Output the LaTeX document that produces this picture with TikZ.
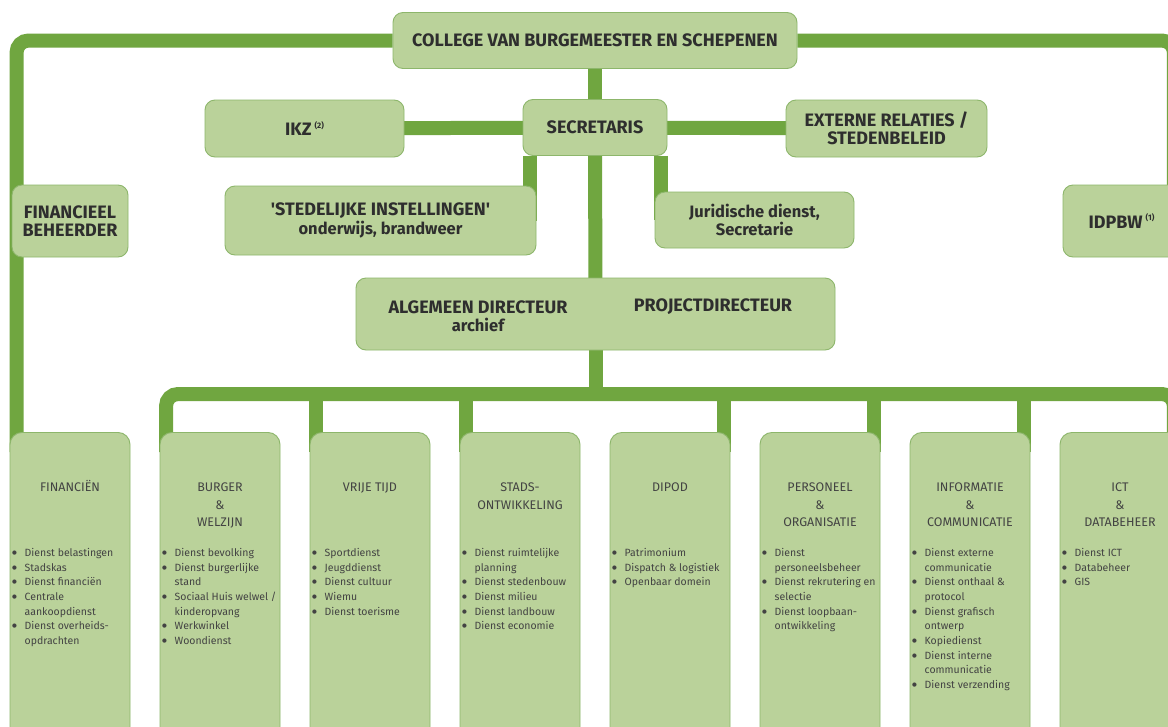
\documentclass[tikz,border=0pt]{standalone}
\usepackage{fontspec}
\setmainfont{Fira Sans}
\newfontfamily\dejavu{DejaVu Sans}
\pgfdeclarelayer{bg}
\pgfsetlayers{bg,main}
\definecolor{boxfill}{HTML}{BAD29A}
\definecolor{boxline}{HTML}{8DB66B}
\definecolor{conncol}{HTML}{70A640}
\definecolor{headtxt}{HTML}{2E2E2E}
\definecolor{lighttxt}{HTML}{434343}
\newcommand{\itm}[1]{\makebox[13.5pt][l]{\hspace{1pt}\raisebox{1.9pt}{\dejavu\fontsize{5.5}{5.5}\selectfont ●}}#1}
\newcommand{\cnt}[1]{\hspace*{13.5pt}#1}
\newcommand{\supnote}[1]{\,\raisebox{0.75ex}{\fontsize{8}{9}\selectfont(#1)}}
\newcommand{\mixed}{\fontsize{16.5}{18.5}\selectfont}
\begin{document}
\begin{tikzpicture}[x=1pt,y=-1pt,
  box/.style={draw=boxline, fill=boxfill, line width=0.9pt, rounded corners=10pt, inner sep=0pt, align=center, text=headtxt, font=\bfseries\fontsize{18}{18.5}\selectfont},
  txt/.style={inner sep=0pt, align=center, text=headtxt, font=\bfseries\fontsize{18}{18}\selectfont},
  dept/.style={draw=boxline, fill=boxfill, line width=0.9pt, rounded corners=12pt, inner sep=0pt, minimum width=120pt, minimum height=330pt, anchor=north},
  depthead/.style={anchor=north, inner sep=0pt, align=center, text=lighttxt, font=\fontsize{12.5}{17.5}\selectfont},
  deplist/.style={anchor=north west, inner sep=0pt, align=left, text=lighttxt, font=\fontsize{10.5}{14.7}\selectfont},
  conn/.style={draw=conncol, line width=14pt, rounded corners=12pt},
]
\useasboundingbox (0,0) rectangle (1168,726);

% top boxes
\node[box, minimum width=404pt, minimum height=56pt] (college) at (595,40.5) {COLLEGE VAN BURGEMEESTER EN SCHEPENEN};
\node[box, minimum width=144pt, minimum height=56pt] (secr) at (595,127.5) {SECRETARIS};
\node[box, minimum width=199pt, minimum height=57pt] (ikz) at (304.5,128.5) {IKZ\supnote{2}};
\node[box, minimum width=201pt, minimum height=57pt] (ext) at (886.5,128.5) {EXTERNE RELATIES /\\STEDENBELEID};
\node[box, minimum width=311pt, minimum height=69pt] (sted) at (380.5,220.5) {\textquotesingle STEDELIJKE INSTELLINGEN\textquotesingle\\{\mixed onderwijs, brandweer}};
\node[box, minimum width=199pt, minimum height=56pt, font=\bfseries\mixed] (jur) at (754.5,220) {Juridische dienst,\\Secretarie};
\node[box, minimum width=116pt, minimum height=72pt] (finb) at (70,221) {FINANCIEEL\\BEHEERDER};
\node[box, minimum width=117pt, minimum height=72pt] (idpbw) at (1121.5,221) {\raisebox{-5pt}{IDPBW\supnote{1}}};
\node[box, minimum width=479pt, minimum height=72pt] (alg) at (595.5,314) {};
\node[txt] (algtxt) at (478,316) {ALGEMEEN DIRECTEUR\\{\mixed archief}};
\node[txt] (projtxt) at (713,307) {PROJECTDIRECTEUR};

% department boxes
\node[dept] (dfin) at (70,432) {};
\node[dept] (dbur) at (220,432) {};
\node[dept] (dvrij) at (370,432) {};
\node[dept] (dstad) at (520,432) {};
\node[dept] (ddip) at (670,432) {};
\node[dept] (dpers) at (820,432) {};
\node[dept] (dinfo) at (970,432) {};
\node[dept] (dict) at (1120,432) {};

\node[depthead] (hfin) at (70,480) {\rule{0pt}{11.5pt}FINANCIËN};
\node[depthead] (hbur) at (220,480) {\rule{0pt}{11.5pt}BURGER\\\&\\WELZIJN};
\node[depthead] (hvrij) at (370,480) {\rule{0pt}{11.5pt}VRIJE TIJD};
\node[depthead] (hstad) at (520,480) {\rule{0pt}{11.5pt}STADS-\\ONTWIKKELING};
\node[depthead] (hdip) at (670,480) {\rule{0pt}{11.5pt}DIPOD};
\node[depthead] (hpers) at (820,480) {\rule{0pt}{11.5pt}PERSONEEL\\\&\\ORGANISATIE};
\node[depthead] (hinfo) at (970,480) {\rule{0pt}{11.5pt}INFORMATIE\\\&\\COMMUNICATIE};
\node[depthead] (hict) at (1120,480) {\rule{0pt}{11.5pt}ICT\\\&\\DATABEHEER};

\node[deplist] (lfin) at (11,548) {\rule{0pt}{8pt}\itm{Dienst belastingen}\\\itm{Stadskas}\\\itm{Dienst financiën}\\\itm{Centrale}\\\cnt{aankoopdienst}\\\itm{Dienst overheids-}\\\cnt{opdrachten}};
\node[deplist] (lbur) at (161,548) {\rule{0pt}{8pt}\itm{Dienst bevolking}\\\itm{Dienst burgerlijke}\\\cnt{stand}\\\itm{Sociaal Huis welwel /}\\\cnt{kinderopvang}\\\itm{Werkwinkel}\\\itm{Woondienst}};
\node[deplist] (lvrij) at (311,548) {\rule{0pt}{8pt}\itm{Sportdienst}\\\itm{Jeugddienst}\\\itm{Dienst cultuur}\\\itm{Wiemu}\\\itm{Dienst toerisme}};
\node[deplist] (lstad) at (461,548) {\rule{0pt}{8pt}\itm{Dienst ruimtelijke}\\\cnt{planning}\\\itm{Dienst stedenbouw}\\\itm{Dienst milieu}\\\itm{Dienst landbouw}\\\itm{Dienst economie}};
\node[deplist] (ldip) at (611,548) {\rule{0pt}{8pt}\itm{Patrimonium}\\\itm{Dispatch \& logistiek}\\\itm{Openbaar domein}};
\node[deplist] (lpers) at (761,548) {\rule{0pt}{8pt}\itm{Dienst}\\\cnt{personeelsbeheer}\\\itm{Dienst rekrutering en}\\\cnt{selectie}\\\itm{Dienst loopbaan-}\\\cnt{ontwikkeling}};
\node[deplist] (linfo) at (911,548) {\rule{0pt}{8pt}\itm{Dienst externe}\\\cnt{communicatie}\\\itm{Dienst onthaal \&}\\\cnt{protocol}\\\itm{Dienst grafisch}\\\cnt{ontwerp}\\\itm{Kopiedienst}\\\itm{Dienst interne}\\\cnt{communicatie}\\\itm{Dienst verzending}};
\node[deplist] (lict) at (1061,548) {\rule{0pt}{8pt}\itm{Dienst ICT}\\\itm{Databeheer}\\\itm{GIS}};

\coordinate (bus) at (595,394);

\begin{pgfonlayer}{bg}
\fill[white] (0,0) rectangle (1168,726);
\draw[conn] (college.west) -| ([xshift=7pt,yshift=-20pt]dfin.north west);
\draw[conn] (college.east) -| ([xshift=-6.5pt,yshift=-20pt]idpbw.north east);
\draw[conn] (college.center) -- (secr.center);
\draw[conn] (ikz.center) -- (secr.center);
\draw[conn] (secr.center) -- (ext.center);
\draw[conn] ([xshift=7pt]secr.south west) -- ([xshift=7pt]secr.south west |- sted.center);
\draw[conn] ([xshift=-6pt]secr.south east) -- ([xshift=-6pt]secr.south east |- jur.center);
\draw[conn] (secr.center) -- (alg.center);
\draw[conn] (alg.center) -- (alg.center |- bus);
\draw[conn] ([xshift=6.5pt,yshift=-20pt]dbur.north west) |- (bus) -| ([xshift=-6.5pt,yshift=-20pt]dict.north east);
\foreach \n in {dvrij,dstad}
  \draw[conn] ([xshift=6.5pt]\n.north west |- bus) -- ([xshift=6.5pt,yshift=-20pt]\n.north west);
\foreach \n in {ddip,dpers,dinfo}
  \draw[conn] ([xshift=-6.5pt]\n.north east |- bus) -- ([xshift=-6.5pt,yshift=-20pt]\n.north east);
\end{pgfonlayer}
\end{tikzpicture}
\end{document}
